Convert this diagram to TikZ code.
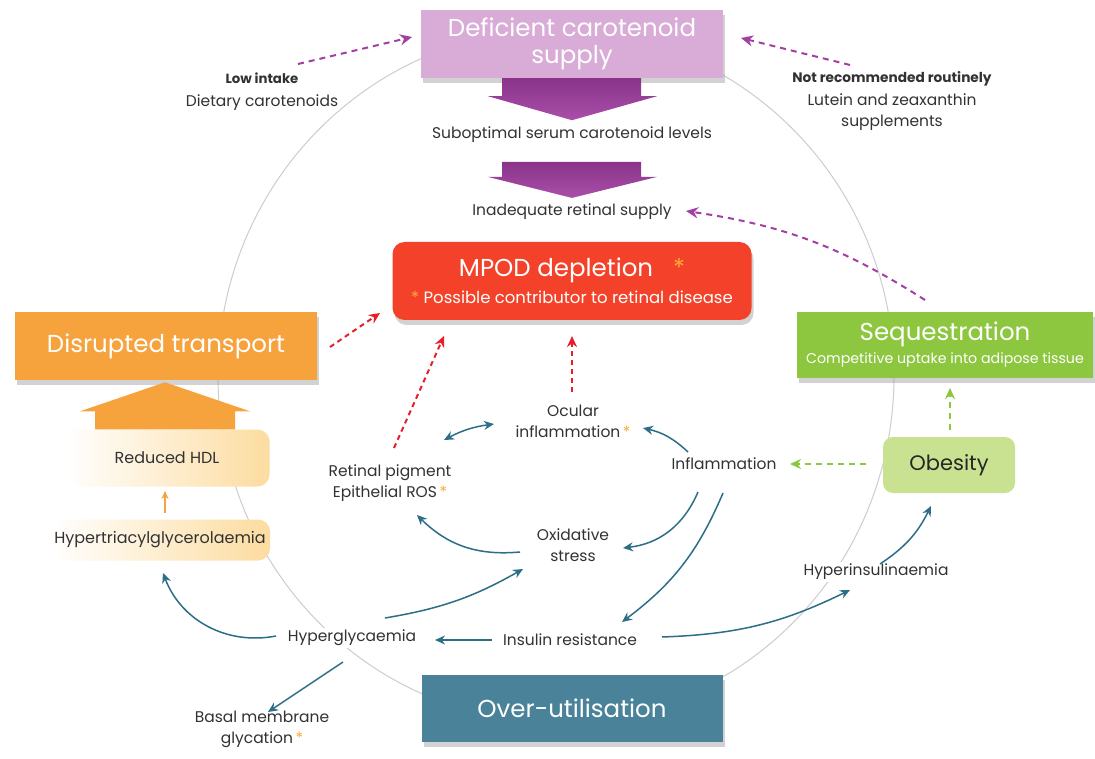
\documentclass[tikz,border=0pt]{standalone}
\usepackage{fontspec}
\setmainfont{Poppins}
\usetikzlibrary{arrows.meta,shadows,positioning}

\definecolor{defpurple}{RGB}{216,172,214}
\definecolor{blockdark}{RGB}{137,52,137}
\definecolor{blocklight}{RGB}{170,78,170}
\definecolor{dashpurple}{RGB}{163,62,163}
\definecolor{mpodred}{RGB}{244,66,42}
\definecolor{astorange}{RGB}{248,170,60}
\definecolor{transorange}{RGB}{246,163,62}
\definecolor{hdlorange}{RGB}{252,220,160}
\definecolor{seqgreen}{RGB}{141,198,63}
\definecolor{obesgreen}{RGB}{201,226,146}
\definecolor{overteal}{RGB}{74,131,153}
\definecolor{flowteal}{RGB}{44,110,134}
\definecolor{redline}{RGB}{232,30,40}
\definecolor{ringgray}{RGB}{205,205,205}
\definecolor{labelgray}{RGB}{50,50,50}

\newcommand{\orast}{{\color{astorange}*}}

\tikzset{
  titlebox/.style={rectangle,text=white,align=center,inner sep=0pt,
    font=\fontsize{24.5}{27}\selectfont,
    drop shadow={shadow xshift=2pt,shadow yshift=-5pt,opacity=.35}},
  softbox/.style={rectangle,rounded corners=12pt,left color=white,right color=hdlorange,
    text=labelgray,font=\fontsize{16}{20}\selectfont,inner sep=0pt},
  lbl/.style={text=labelgray,font=\fontsize{15.5}{21}\selectfont,align=center,
    fill=white,inner sep=2pt},
  sidelbl/.style={lbl,fill=none},
  flow/.style={draw=flowteal,line width=1.5pt,-{Stealth[length=10pt,width=9pt]}},
  redlink/.style={draw=redline,line width=2pt,dash pattern=on 5pt off 4pt,
    -{Stealth[length=11pt,width=10pt]}},
  greenlink/.style={draw=seqgreen,line width=1.8pt,dash pattern=on 6pt off 5pt,
    -{Stealth[length=11pt,width=10pt]}},
  purplelink/.style={draw=dashpurple,line width=2pt,dash pattern=on 6pt off 5pt,
    -{Stealth[length=12pt,width=11pt]}}
}

\begin{document}
\begin{tikzpicture}[x=1pt,y=1pt]
\useasboundingbox (0,0) rectangle (1095,-759);
\fill[white] (0,0) rectangle (1095,-759);

% the ring behind everything
\draw[ringgray,line width=1pt] (556,-376) ellipse [x radius=338pt,y radius=346pt];

% main boxes
\node[titlebox,fill=defpurple,minimum width=302pt,minimum height=68pt] (defic) at (572,-44) {Deficient carotenoid\\supply};
\node[titlebox,fill=mpodred,rounded corners=12pt,minimum width=359pt,minimum height=78pt] (mpod) at (572,-281)
  {MPOD depletion\hspace{20pt}\orast\\{\fontsize{16.5}{18}\selectfont\orast\ Possible contributor to retinal disease}};
\node[titlebox,fill=transorange,minimum width=302pt,minimum height=68pt] (disr) at (166,-346) {Disrupted transport};
\node[titlebox,fill=seqgreen,minimum width=296pt,minimum height=66pt] (seq) at (945,-345)
  {Sequestration\\[-4pt]{\fontsize{14.2}{16}\selectfont Competitive uptake into adipose tissue}};
\node[titlebox,fill=overteal,minimum width=301pt,minimum height=67pt] (over) at (572,-708) {Over-utilisation};
\node[rectangle,rounded corners=10pt,fill=obesgreen,minimum width=132pt,minimum height=56pt,
  text=black!85,font=\fontsize{21}{24}\selectfont] (obes) at (949,-465) {Obesity};
\node[softbox,minimum width=205pt,minimum height=57pt] (hdl) at (167,-458) {Reduced HDL};
\node[softbox,minimum width=220pt,minimum height=41pt] (hyptri) at (160,-540) {Hypertriacylglycerolaemia};

% block arrows
\shade[top color=blockdark,bottom color=blocklight,shift={(defic.south)}]
  (-70,0) -- (69,0) -- (69,-18) -- (85,-18) -- (0,-42) -- (-84,-18) -- (-70,-18) -- cycle;
\fill[transorange,shift={([xshift=-2pt]hdl.north)}]
  (-70,0) -- (70,0) -- (70,18) -- (85,18) -- (0,47) -- (-85,18) -- (-70,18) -- cycle;

% labels
\node[sidelbl] (dietary) at (262,-92) {{\bfseries\fontsize{13.3}{16}\selectfont Low intake}\\[2pt]Dietary carotenoids};
\node[sidelbl] (notrec) at (892,-101) {{\bfseries\fontsize{13.7}{16}\selectfont Not recommended routinely}\\[2pt]Lutein and zeaxanthin\\supplements};
\node[lbl] (subopt) at (572,-135) {Suboptimal serum carotenoid levels};
\node[lbl] (inadeq) at (572,-212) {Inadequate retinal supply};
\node[lbl] (ocular) at (573,-421) {Ocular\\inflammation\,\orast};
\node[lbl] (ros) at (390,-483) {Retinal pigment\\Epithelial ROS\,\orast};
\node[lbl] (inflam) at (724,-464) {Inflammation};
\node[lbl] (oxid) at (573,-545) {Oxidative\\stress};
\node[lbl] (hyperg) at (352,-638) {Hyperglycaemia};
\node[lbl] (insres) at (570,-640) {Insulin resistance};
\node[lbl] (hyperins) at (876,-572) {Hyperinsulinaemia};
\node[lbl] (basal) at (262,-729) {Basal membrane\\glycation\,\orast};

\shade[top color=blockdark,bottom color=blocklight,shift={(inadeq.north)}]
  (-70,40) -- (69,40) -- (69,25) -- (85,25) -- (0,4) -- (-84,25) -- (-70,25) -- cycle;

% purple dashed links
\draw[purplelink] ([shift={(36,28)}]dietary.center) -- ([shift={(-160,7)}]defic.center);
\draw[purplelink] ([shift={(-42,36)}]notrec.center) -- ([shift={(169,6)}]defic.center);
\draw[purplelink] ([shift={(-20,45)}]seq.center) to[bend right=12] ([shift={(114,1)}]inadeq.center);

% red dashed links
\draw[redlink] ([shift={(164,-1)}]disr.center) -- ([shift={(-192,-32)}]mpod.center);
\draw[redlink] ([shift={(4,35)}]ros.center) -- ([shift={(-128,-55)}]mpod.center);
\draw[redlink] ([shift={(-1,29)}]ocular.center) -- ([shift={(0,-55)}]mpod.center);

% green dashed links
\draw[greenlink] ([shift={(1,35)}]obes.center) -- ([shift={(5,-43)}]seq.center);
\draw[greenlink] ([shift={(-83,1)}]obes.center) -- ([shift={(66,0)}]inflam.center);

% orange link
\draw[transorange,line width=1.5pt,-{Stealth[length=8pt,width=7pt]}]
  ([shift={(5,27)}]hyptri.center) -- ([shift={(-2,-33)}]hdl.center);

% teal flows
\draw[flow,{Stealth[length=10pt,width=9pt]}-{Stealth[length=10pt,width=9pt]}]
  ([shift={(54,43)}]ros.center) to[bend left=10] ([shift={(-79,-3)}]ocular.center);
\draw[flow] ([shift={(-36,12)}]inflam.center) to[bend right=15] ([shift={(70,-7)}]ocular.center);
\draw[flow] ([shift={(-26,-28)}]inflam.center) to[bend left=30] ([shift={(50,-3)}]oxid.center);
\draw[flow] ([shift={(-1,-29)}]inflam.center) to[bend left=15] ([shift={(52,18)}]insres.center);
\draw[flow] ([shift={(-53,-7)}]oxid.center) to[bend left=25] ([shift={(27,-32)}]ros.center);
\draw[flow] ([shift={(33,20)}]hyperg.center) to[bend right=10] ([shift={(-50,-24)}]oxid.center);
\draw[flow] ([shift={(-78,0)}]insres.center) -- ([shift={(83,-2)}]hyperg.center);
\draw[flow] ([shift={(92,3)}]insres.center) to[bend right=12] ([shift={(-26,-18)}]hyperins.center);
\draw[flow] ([shift={(4,8)}]hyperins.center) to[bend right=15] ([shift={(-18,-41)}]obes.center);
\draw[flow] ([shift={(-76,2)}]hyperg.center) to[bend left=40] ([shift={(3,-33)}]hyptri.center);
\draw[flow] ([shift={(-9,-24)}]hyperg.center) -- ([shift={(6,17)}]basal.center);
\end{tikzpicture}
\end{document}
